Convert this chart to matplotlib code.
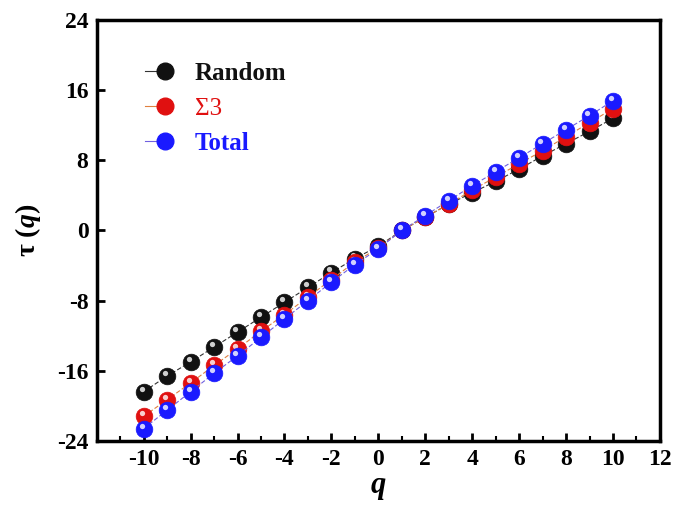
import matplotlib.pyplot as plt
import matplotlib.transforms as mtransforms
from matplotlib.legend_handler import HandlerTuple
import numpy as np

plt.rcParams['font.family'] = ['Liberation Serif', 'DejaVu Serif']
plt.rcParams['font.weight'] = 'bold'
plt.rcParams['axes.unicode_minus'] = False
plt.rcParams['mathtext.fontset'] = 'custom'
plt.rcParams['mathtext.it'] = 'Liberation Serif:italic:bold'
plt.rcParams['mathtext.rm'] = 'Liberation Serif:bold'

# q values
q = list(range(-10, 11))

# tau(q) for each series
tau_random = [-18.4, -16.6, -15.0, -13.3, -11.6, -9.9, -8.2, -6.5, -4.8, -3.2, -1.8,
              0.0, 1.5, 3.0, 4.3, 5.6, 7.0, 8.5, 9.9, 11.3, 12.8]
tau_sigma3 = [-21.2, -19.3, -17.4, -15.4, -13.5, -11.5, -9.6, -7.6, -5.6, -3.6, -2.0,
              0.0, 1.5, 3.0, 4.6, 6.1, 7.6, 9.1, 10.7, 12.3, 13.9]
tau_total = [-22.6, -20.5, -18.4, -16.3, -14.3, -12.2, -10.1, -8.0, -5.9, -3.9, -2.1,
             0.0, 1.7, 3.4, 5.1, 6.7, 8.3, 9.9, 11.5, 13.1, 14.8]

labels = ["Random", "\u03a33", "Total"]
colors = ["#111111", "#e01010", "#1a1aff"]
line_colors = ["#333333", "#e08040", "#7060e0"]
series = [tau_random, tau_sigma3, tau_total]

fig = plt.figure(figsize=(6.91, 5.15), dpi=100)
ax = fig.add_axes([0.140, 0.144, 0.815, 0.817])

handles = []
for y, c, lc, lab in zip(series, colors, line_colors, labels):
    ax.plot(q, y, '--', color=lc, lw=0.8, dashes=(4, 2))
    ax.plot(q, y, 'o', color=c, ms=12, mec=c, mew=0.5)
    shift = mtransforms.offset_copy(ax.transData, fig=fig, x=-1.5, y=2.2, units='points')
    ax.plot(q, y, 'o', color='white', ms=3.8, mec='none', alpha=0.8, transform=shift)
    # legend handle: line + sphere
    h1, = ax.plot([], [], '-', color=lc, lw=0.8)
    h2, = ax.plot([], [], 'o', color=c, ms=12)
    h3, = ax.plot([], [], 'o', color='white', ms=3.8, alpha=0.8)
    handles.append((h1, h2, h3))

leg = ax.legend(handles, labels, handler_map={tuple: HandlerTuple(ndivide=None, pad=0)},
                loc='upper left', bbox_to_anchor=(0.045, 0.955), frameon=False,
                fontsize=18, handlelength=1.6, handletextpad=0.4, labelspacing=0.5)
for t, c in zip(leg.get_texts(), colors):
    t.set_color(c)
    t.set_fontweight('bold')
leg.get_texts()[1].set_fontweight('normal')

ax.set_xlim(-12, 12)
ax.set_ylim(-24, 24)
ax.set_xticks(np.arange(-10, 13, 2))
ax.set_xticks(np.arange(-11, 12, 2), minor=True)
ax.set_yticks(np.arange(-24, 25, 8))
ax.tick_params(axis='both', which='major', direction='in', length=6, width=2,
               labelsize=17, pad=6)
ax.tick_params(axis='x', which='minor', direction='in', length=3.5, width=1.5)
for lab in ax.get_xticklabels() + ax.get_yticklabels():
    lab.set_fontweight('bold')
for s in ax.spines.values():
    s.set_linewidth(2.5)

ax.set_xlabel(r'$q$', fontsize=22, labelpad=2)
ax.set_ylabel(r'$\mathrm{\tau\ (}q\mathrm{)}$', fontsize=20, labelpad=10)

fig.savefig('out.png', dpi=100)
